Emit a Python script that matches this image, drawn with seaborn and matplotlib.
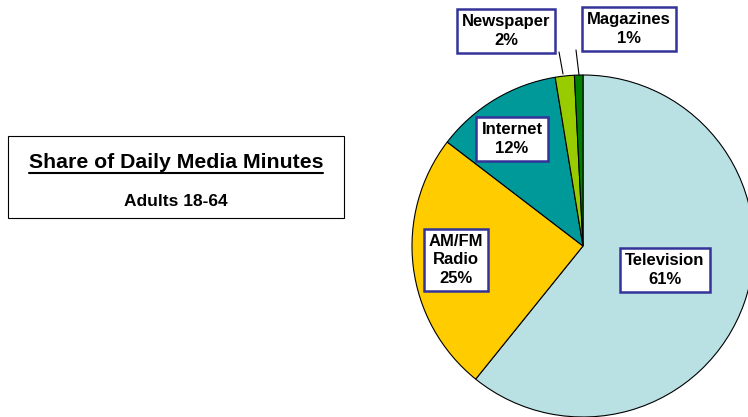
import matplotlib
matplotlib.use("Agg")
import matplotlib.pyplot as plt
import seaborn as sns
from matplotlib.patches import Rectangle

categories = ["Television", "AM/FM\nRadio", "Internet", "Newspaper", "Magazines"]
shares = [60.8, 24.6, 12.0, 1.8, 0.8]
colors = ["#B9E0E3", "#FFCC00", "#009999", "#99CC00", "#008000"]
title = "Share of Daily Media Minutes"
subtitle = "Adults 18-64"

sns.set_theme(style="white")
plt.rcParams['font.family'] = ['Liberation Sans', 'DejaVu Sans']
plt.rcParams['text.color'] = 'black'

W, H = 748, 417
fig = plt.figure(figsize=(W / 100, H / 100), dpi=100)
ax = fig.add_axes([0, 0, 1, 1])

cx, cy, r = 583, H - 246, 171
ax.pie(shares, colors=sns.color_palette(colors), startangle=90, counterclock=False,
       center=(cx, cy), radius=r, frame=True,
       wedgeprops=dict(edgecolor="black", linewidth=0.8))
ax.set_xlim(0, W)
ax.set_ylim(0, H)
ax.set_aspect("equal")
ax.axis("off")

box = dict(boxstyle="square,pad=0.3", facecolor="white", edgecolor="#333399", linewidth=1.8)
label_pos = [(665, 270), (456, 260), (512, 139), (506, 31), (629, 29)]
for name, val, (lx, ly) in zip(categories, shares, label_pos):
    ax.text(lx, H - ly, f"{name}\n{round(val):.0f}%", ha="center", va="center",
            fontsize=12, fontweight="bold", color="black", bbox=box, linespacing=1.3,
            zorder=5)

# leader lines for small slices
ax.plot([563, 559], [H - 74, H - 52], color="black", linewidth=0.8)
ax.plot([579, 576], [H - 75, H - 50], color="black", linewidth=0.8)

# title box
ax.add_patch(Rectangle((8, H - 218), 336, 82, facecolor="white", edgecolor="black", linewidth=0.8))
t = ax.text(176, H - 162, title, ha="center", va="center", fontsize=15.3, fontweight="bold")
ax.text(176, H - 201, subtitle, ha="center", va="center", fontsize=12.5, fontweight="bold")
fig.canvas.draw()
bb = t.get_window_extent().transformed(ax.transData.inverted())
ax.plot([bb.x0, bb.x1], [H - 172.5, H - 172.5], color="black", linewidth=1.5)

fig.savefig("out.png", dpi=100)
